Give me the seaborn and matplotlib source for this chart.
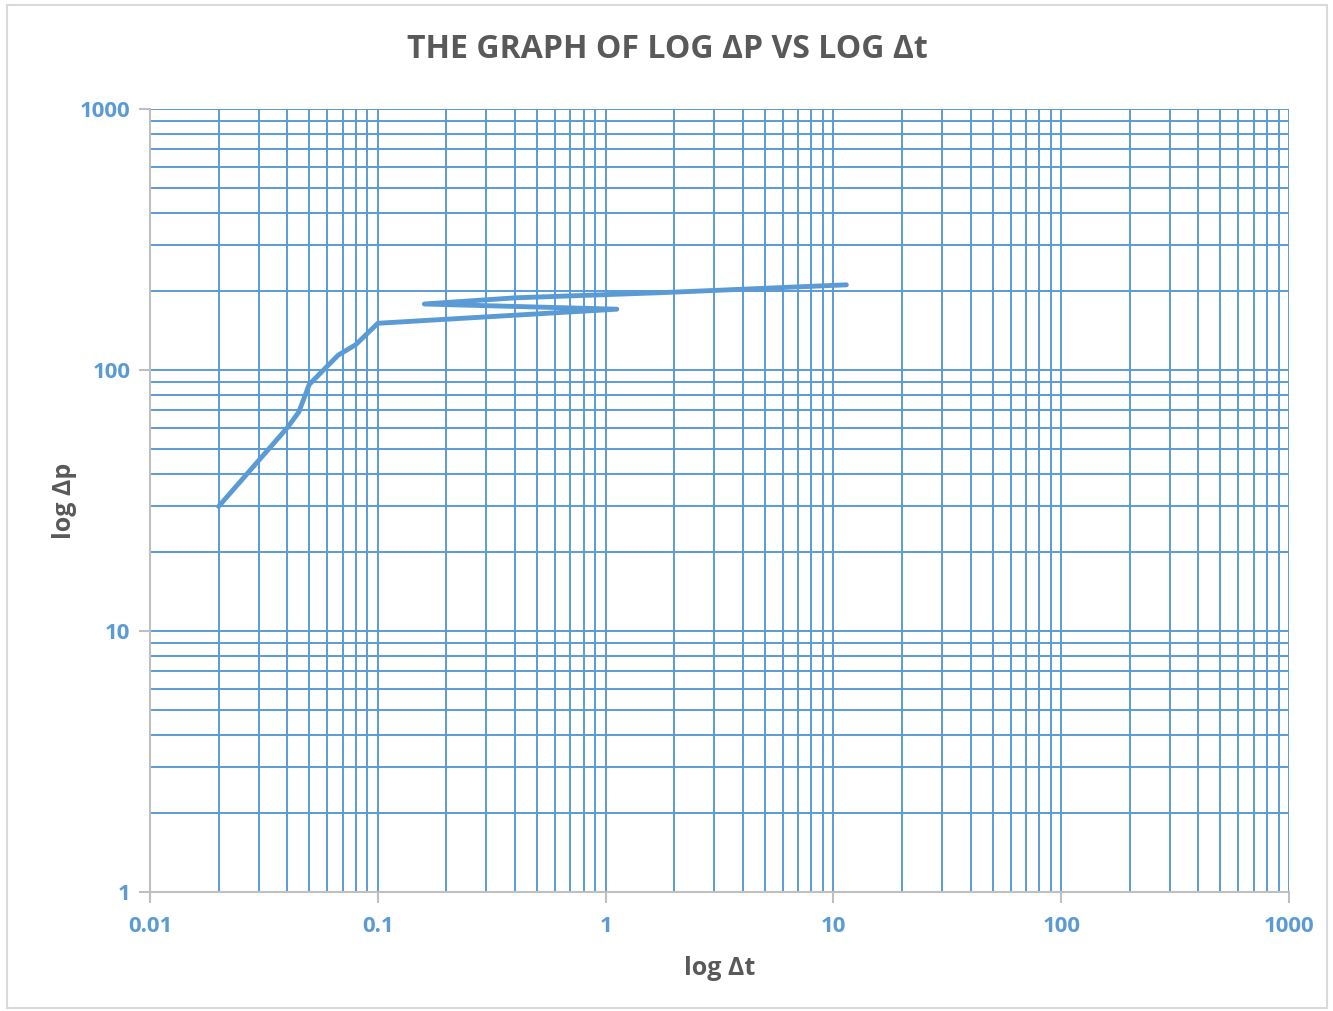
import matplotlib
matplotlib.use("Agg")
import matplotlib.pyplot as plt
from matplotlib.ticker import LogLocator, FixedLocator, FixedFormatter, NullFormatter
from matplotlib.patches import Rectangle
import seaborn as sns
import pandas as pd

# data (row order kept, line drawn in that order)
delta_t = [0.02, 0.04, 0.045, 0.05, 0.067, 0.08, 0.1, 1.12, 0.16, 0.4, 1.8, 11.4]
delta_p = [30, 60, 69, 88, 114, 125, 151, 171, 179, 189, 198, 212]

x_ticks = [0.01, 0.1, 1, 10, 100, 1000]
x_labels = ["0.01", "0.1", "1", "10", "100", "1000"]
y_ticks = [1, 10, 100, 1000]
y_labels = ["1", "10", "100", "1000"]

blue = "#5B9BD5"
gray = "#595959"
spine_gray = "#BFBFBF"

sns.set_style("white")
plt.rcParams['font.family'] = ['Open Sans', 'DejaVu Sans']
plt.rcParams['font.weight'] = 'bold'

df = pd.DataFrame({"t": delta_t, "p": delta_p})

fig = plt.figure(figsize=(13.33, 10.11), dpi=100)
ax = fig.add_axes([150/1333, 1 - 892/1011, (1289-150)/1333, (892-109)/1011])

ax.set_xscale("log")
ax.set_yscale("log")
ax.set_xlim(0.01, 1000)
ax.set_ylim(1, 1000)

sns.lineplot(data=df, x="t", y="p", sort=False, ax=ax, color=blue,
             linewidth=3.5, estimator=None, zorder=3)

ax.xaxis.set_major_locator(FixedLocator(x_ticks))
ax.xaxis.set_major_formatter(FixedFormatter(x_labels))
ax.yaxis.set_major_locator(FixedLocator(y_ticks))
ax.yaxis.set_major_formatter(FixedFormatter(y_labels))
ax.xaxis.set_minor_locator(LogLocator(base=10, subs=range(2, 10), numticks=20))
ax.yaxis.set_minor_locator(LogLocator(base=10, subs=range(2, 10), numticks=20))
ax.xaxis.set_minor_formatter(NullFormatter())
ax.yaxis.set_minor_formatter(NullFormatter())

ax.grid(which="both", color=blue, linewidth=1.4)
ax.set_axisbelow(True)

for side in ["top", "right"]:
    ax.spines[side].set_visible(False)
for side in ["left", "bottom"]:
    ax.spines[side].set_color(spine_gray)
    ax.spines[side].set_linewidth(1.5)
    ax.spines[side].set_zorder(2)

ax.tick_params(which="major", direction="out", length=8, width=1.5, color=spine_gray,
               labelcolor=blue, labelsize=16, pad=6, left=True, bottom=True)
ax.tick_params(axis="x", which="major", pad=9)
ax.tick_params(which="minor", length=0)

ax.set_xlabel("log Δt", fontsize=18, fontweight="bold", color=gray, labelpad=14)
ax.set_ylabel("log Δp", fontsize=18, fontweight="bold", color=gray, labelpad=2)

fig.text(667/1333, 1 - 50/1011, "THE GRAPH OF LOG ΔP VS LOG Δt", ha="center", va="center",
         fontsize=23, fontweight="bold", color=gray)

fig.patches.append(Rectangle((7/1333, 3/1011), 1320/1333, 1003/1011, transform=fig.transFigure,
                             fill=False, edgecolor="#D9D9D9", linewidth=1.5))

fig.savefig("out.png", dpi=100, facecolor="white")
